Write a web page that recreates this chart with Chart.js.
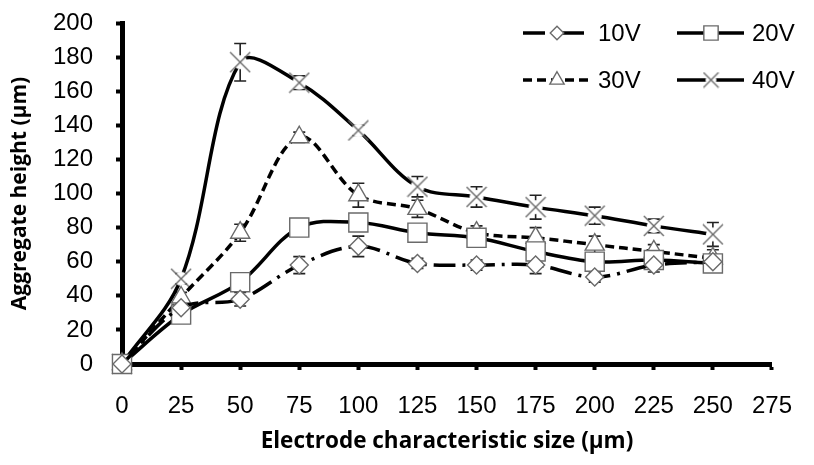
<!DOCTYPE html>
<html lang="en">
<head>
  <meta charset="UTF-8" />
  <title>Aggregate height vs electrode size</title>
  <script src="https://cdn.jsdelivr.net/npm/chart.js"></script>
  <style>
    html, body { margin: 0; padding: 0; background: #fff; }
    #wrap { position: relative; width: 814px; height: 465px; }
  </style>
</head>
<body>
  <div id="wrap"><canvas id="chart"></canvas></div>

  <script>
    // data
    const sizes = [0, 25, 50, 75, 100, 125, 150, 175, 200, 225, 250];
    const xTicks = [0, 25, 50, 75, 100, 125, 150, 175, 200, 225, 250, 275];
    const yTicks = [0, 20, 40, 60, 80, 100, 120, 140, 160, 180, 200];
    const seriesNames = ['10V', '20V', '30V', '40V'];

    const h10 = [0, 33, 38, 58, 69, 59, 58, 58, 51, 58, 60];
    const h20 = [0, 29, 48, 80, 83, 77, 74, 66, 60, 61, 59];
    const h30 = [0, 39, 77, 133, 99, 91, 77, 74, 70, 66, 62];
    const h40 = [0, 50, 177, 165, 137, 104, 98, 92, 87, 81, 76];

    const err10 = [0, 3, 4, 5, 6, 3, 3, 5, 3, 4, 3];
    const err20 = [0, 3, 4, 3, 4, 4, 4, 5, 5, 4, 4];
    const err30 = [0, 3, 5, 3, 7, 5, 4, 6, 5, 4, 5];
    const err40 = [0, 3, 11, 4, 3, 6, 6, 7, 5, 4, 7];

    const markerGray = '#6a6a6a';

    // X marker with a white backing so the line breaks around it
    function makeCross(size) {
      const c = document.createElement('canvas');
      c.width = size; c.height = size;
      const g = c.getContext('2d');
      const m = size / 2;
      g.fillStyle = '#fff';
      g.beginPath(); g.arc(m, m, size * 0.32, 0, Math.PI * 2); g.fill();
      g.strokeStyle = markerGray; g.lineWidth = 1.4;
      g.beginPath();
      g.moveTo(1, 1); g.lineTo(size - 1, size - 1);
      g.moveTo(size - 1, 1); g.lineTo(1, size - 1);
      g.stroke();
      return c;
    }
    const crossImg = makeCross(22);
    const crossSmall = makeCross(17);

    function pts(vals) { return sizes.map((x, i) => ({ x: x, y: vals[i] })); }

    const styles = [
      { dash: [22, 7, 3, 7], pointStyle: 'rectRot', radius: 9 },
      { dash: [], pointStyle: 'rect', radius: 13.5 },
      { dash: [9, 5], pointStyle: 'triangle', radius: 11 },
      { dash: [], pointStyle: crossImg, radius: 11 }
    ];
    const values = [h10, h20, h30, h40];
    const errors = [err10, err20, err30, err40];

    const datasets = seriesNames.map((name, i) => ({
      label: name,
      data: pts(values[i]),
      errors: errors[i],
      borderColor: '#000',
      borderWidth: 3.5,
      borderDash: styles[i].dash,
      tension: 0.35,
      pointStyle: styles[i].pointStyle,
      pointRadius: styles[i].radius,
      pointBackgroundColor: '#fff',
      pointBorderColor: markerGray,
      pointBorderWidth: 1.4,
      clip: false
    }));

    // vertical error bars with caps, under the markers
    const errorBars = {
      id: 'errorBars',
      beforeDatasetsDraw(chart) {
        const ctx = chart.ctx;
        const ys = chart.scales.y;
        ctx.save();
        ctx.strokeStyle = '#222';
        ctx.lineWidth = 1.6;
        chart.data.datasets.forEach((ds, i) => {
          const meta = chart.getDatasetMeta(i);
          meta.data.forEach((el, j) => {
            const e = ds.errors[j];
            if (!e) return;
            const v = ds.data[j].y;
            const top = ys.getPixelForValue(v + e);
            const bot = ys.getPixelForValue(v - e);
            ctx.beginPath();
            ctx.moveTo(el.x, top); ctx.lineTo(el.x, bot);
            ctx.moveTo(el.x - 6, top); ctx.lineTo(el.x + 6, top);
            ctx.moveTo(el.x - 6, bot); ctx.lineTo(el.x + 6, bot);
            ctx.stroke();
          });
        });
        ctx.restore();
      }
    };

    // 2x2 legend in the top right corner
    const cornerLegend = {
      id: 'cornerLegend',
      afterDraw(chart) {
        const ctx = chart.ctx;
        const cols = [523, 677];
        const rows = [33, 80];
        ctx.save();
        seriesNames.forEach((name, i) => {
          const x0 = cols[i % 2], y = rows[Math.floor(i / 2)];
          const ds = chart.data.datasets[i];
          ctx.strokeStyle = '#000';
          ctx.lineWidth = 3.5;
          ctx.setLineDash(ds.borderDash);
          ctx.beginPath(); ctx.moveTo(x0, y); ctx.lineTo(x0 + 67, y); ctx.stroke();
          ctx.setLineDash([]);
          ctx.fillStyle = '#fff';
          ctx.strokeStyle = markerGray;
          ctx.lineWidth = 1.4;
          Chart.helpers.drawPoint(ctx, {
            pointStyle: i === 3 ? crossSmall : ds.pointStyle,
            radius: ds.pointRadius * 0.75,
            borderWidth: 1.4,
            rotation: 0
          }, x0 + 34, y);
          ctx.fillStyle = '#000';
          ctx.font = '24px "Liberation Sans", Arial, sans-serif';
          ctx.textBaseline = 'middle';
          ctx.fillText(name, x0 + 75, y + 1);
        });
        ctx.restore();
      }
    };

    const tickFont = { family: '"Liberation Sans", Arial, sans-serif', size: 24 };

    new Chart(document.getElementById('chart'), {
      type: 'line',
      data: { datasets: datasets },
      plugins: [errorBars, cornerLegend],
      options: {
        responsive: true,
        maintainAspectRatio: false,
        animation: false,
        layout: { padding: { top: 23, right: 24, left: 0, bottom: 0 } },
        plugins: { legend: { display: false }, tooltip: { enabled: false } },
        scales: {
          x: {
            type: 'linear',
            min: 0, max: 275,
            afterBuildTicks(scale) { scale.ticks = xTicks.map(v => ({ value: v })); },
            afterFit(scale) { scale.height = 101; },
            border: { color: '#000', width: 5 },
            grid: { drawOnChartArea: false, drawTicks: true, tickLength: 6, tickWidth: 4, tickColor: '#000' },
            ticks: { color: '#000', font: tickFont, padding: 22, maxRotation: 0 },
            title: {
              display: true, text: 'Electrode characteristic size (µm)', color: '#000',
              font: { family: '"Open Sans", sans-serif', size: 22.5, weight: 'bold' },
              padding: { bottom: 10 }
            }
          },
          y: {
            min: 0, max: 200,
            afterBuildTicks(scale) { scale.ticks = yTicks.map(v => ({ value: v })); },
            afterFit(scale) {
              scale.width = 122;
              // label padding shouldn't push the plot area down
              scale.paddingTop = 14;
              scale.paddingBottom = 14;
            },
            border: { color: '#000', width: 5 },
            grid: { drawOnChartArea: false, drawTicks: true, tickLength: 6, tickWidth: 4, tickColor: '#000' },
            ticks: { color: '#000', font: tickFont, padding: 23 },
            title: {
              display: true, text: 'Aggregate height (µm)', color: '#000',
              font: { family: '"Open Sans", sans-serif', size: 21, weight: 'bold' },
              padding: { top: 7 }
            }
          }
        }
      }
    });
  </script>
</body>
</html>
